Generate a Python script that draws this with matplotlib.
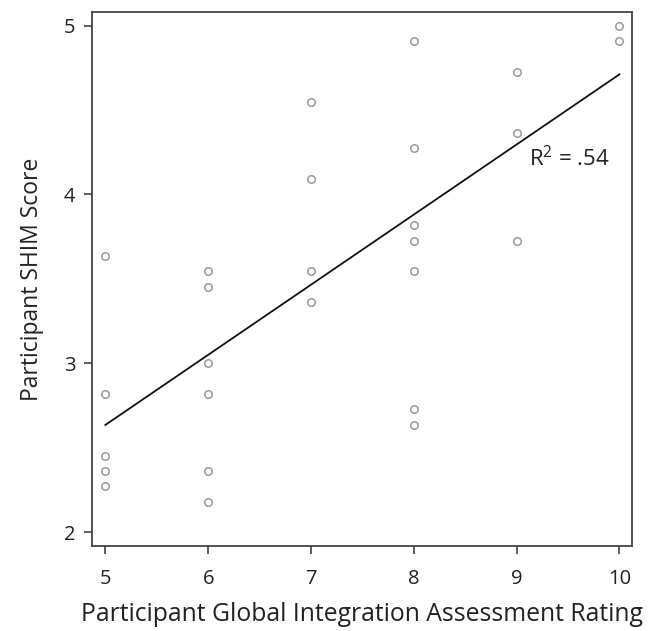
import matplotlib
matplotlib.use("Agg")
import matplotlib.pyplot as plt
import numpy as np

plt.rcParams['font.family'] = ['Open Sans', 'DejaVu Sans']

# ratings and SHIM scores (scores are means of 11 items)
rating = [5, 5, 5, 5, 5,
          6, 6, 6, 6, 6, 6,
          7, 7, 7, 7,
          8, 8, 8, 8, 8, 8, 8,
          9, 9, 9,
          10, 10]
shim_sum = [40, 31, 27, 26, 25,
            39, 38, 33, 31, 26, 24,
            50, 45, 39, 37,
            54, 47, 42, 41, 39, 30, 29,
            52, 48, 41,
            55, 54]
x = np.array(rating, dtype=float)
y = np.array(shim_sum) / 11.0

x_ticks = [5, 6, 7, 8, 9, 10]
y_ticks = [2, 3, 4, 5]
r2_label = 'R$^{\\mathregular{2}}$ = .54'

fig = plt.figure(figsize=(6.48, 6.31), dpi=100)
ax = fig.add_axes([0.142, 0.135, 0.833, 0.846])

ax.plot(x, y, 'o', mfc='none', mec='#9a9a9a', ms=5.4, mew=1.1)

# least squares line
b, a = np.polyfit(x, y, 1)
xl = np.array([5, 10])
ax.plot(xl, a + b * xl, color='#111111', lw=1.3)

ax.text(9.12, 4.21, r2_label, fontsize=16, va='center', ha='left', color='#222222')

ax.set_xlim(4.87, 10.12)
ax.set_ylim(1.92, 5.08)
ax.set_xticks(x_ticks)
ax.set_yticks(y_ticks)
ax.tick_params(direction='out', length=6, width=1.1, color='#333333',
               labelsize=14.5, labelcolor='#222222')
ax.tick_params(axis='x', pad=11)
ax.tick_params(axis='y', pad=6)
for s in ax.spines.values():
    s.set_color('#444444')
    s.set_linewidth(1.3)

ax.set_xlabel('Participant Global Integration Assessment Rating', fontsize=17.8,
              color='#222222', labelpad=9)
ax.set_ylabel('Participant SHIM Score', fontsize=16.5, color='#222222', labelpad=14)

fig.savefig('out.png', dpi=100, facecolor='white')
